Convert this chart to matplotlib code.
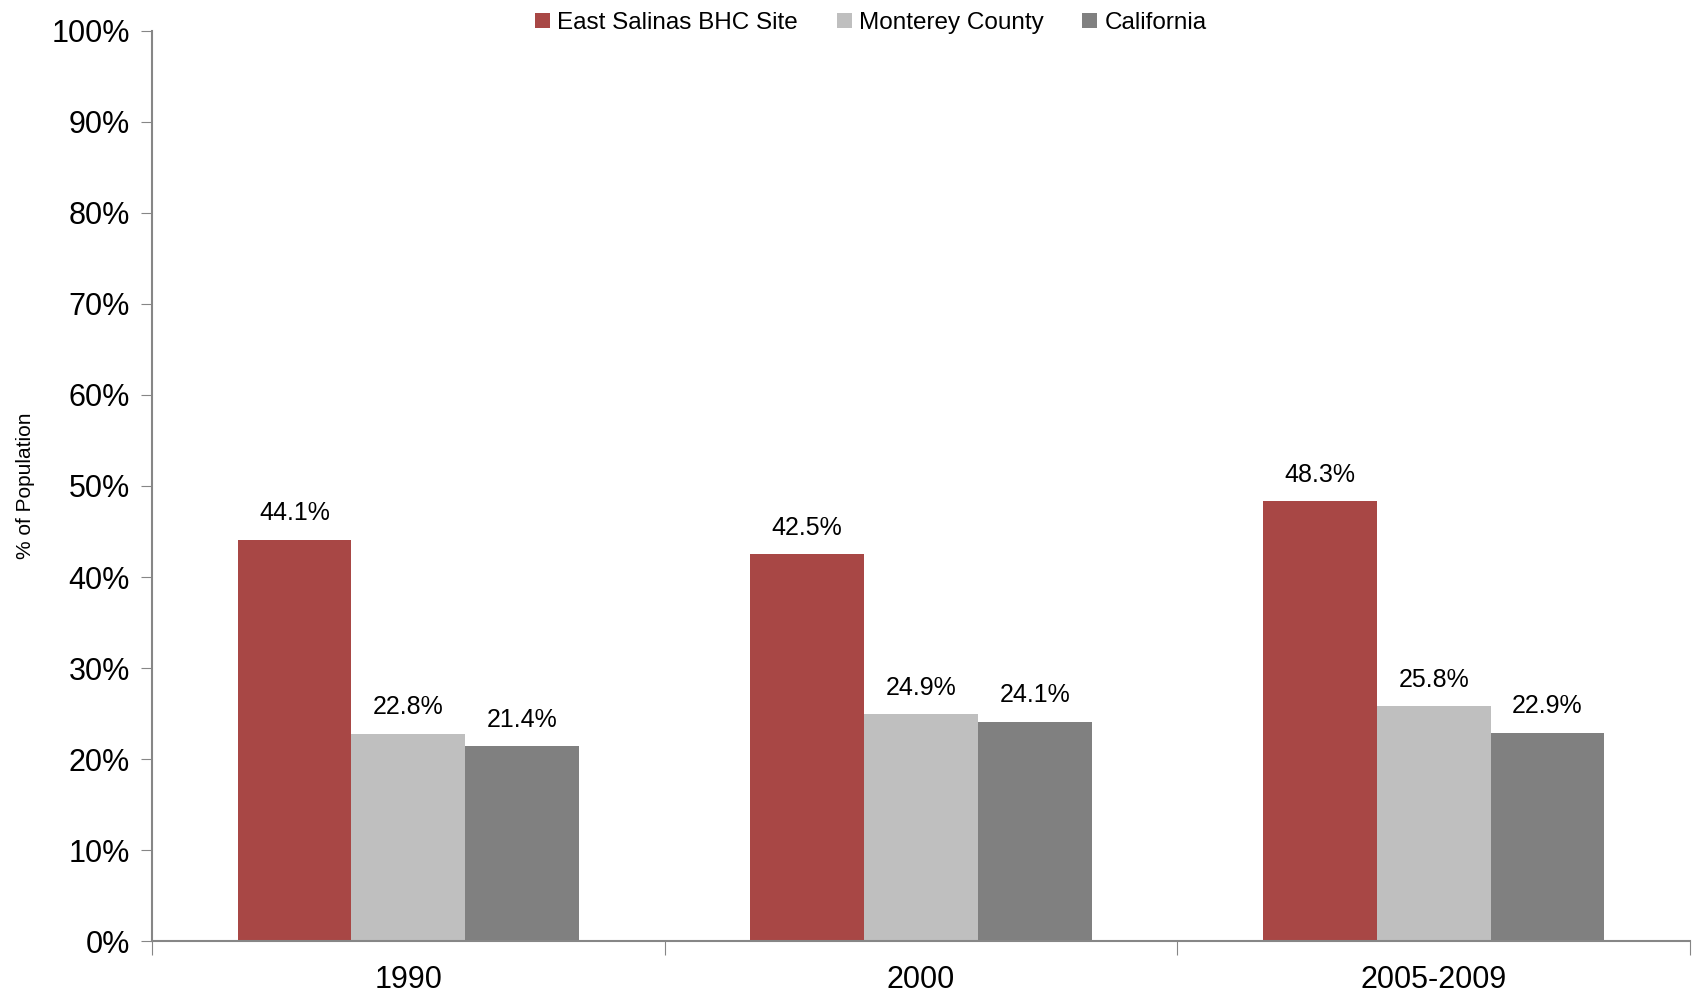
import matplotlib.pyplot as plt
import numpy as np
from matplotlib import font_manager

# categories and series
years = ['1990', '2000', '2005-2009']
series_names = ['East Salinas BHC Site', 'Monterey County', 'California']
east_salinas = [44.1, 42.5, 48.3]
monterey = [22.8, 24.9, 25.8]
california = [21.4, 24.1, 22.9]
colors = ['#A84745', '#BFBFBF', '#808080']

names = [f.name for f in font_manager.fontManager.ttflist]
narrow = 'Liberation Sans Narrow' if 'Liberation Sans Narrow' in names else 'Liberation Sans'
plt.rcParams['font.family'] = ['Liberation Sans', 'DejaVu Sans']

fig = plt.figure(figsize=(16.92, 9.96), dpi=100)
ax = fig.add_axes([0.0898, 0.0552, 0.909, 0.9137])

x = np.arange(len(years))
w = 0.222
for k, (vals, c, nm) in enumerate(zip([east_salinas, monterey, california], colors, series_names)):
    bars = ax.bar(x + (k - 1) * w, vals, width=w, color=c, label=nm)
    for b, v in zip(bars, vals):
        ax.text(b.get_x() + b.get_width() / 2, v + 1.6, '%.1f%%' % v,
                ha='center', va='bottom', fontsize=18)

ax.set_xlim(-0.5, 2.5)
ax.set_ylim(0, 100)
ax.set_yticks(np.arange(0, 101, 10))
ax.set_yticklabels(['%d%%' % v for v in range(0, 101, 10)], fontsize=22)
ax.set_xticks([-0.5, 0.5, 1.5, 2.5])
ax.set_xticklabels([])
ax.set_xticks(x, minor=True)
ax.set_xticklabels(years, minor=True, fontsize=22)
ax.tick_params(axis='x', which='major', length=10, color='#868686')
ax.tick_params(axis='x', which='minor', length=0, pad=17)
ax.tick_params(axis='y', length=8, color='#868686', pad=8)

for s in ['top', 'right']:
    ax.spines[s].set_visible(False)
for s in ['left', 'bottom']:
    ax.spines[s].set_color('#868686')
    ax.spines[s].set_linewidth(1.5)

ax.set_ylabel('% of Population', fontsize=15, labelpad=12)

ax.legend(loc='upper center', bbox_to_anchor=(0.4675, 1.045), ncol=3, frameon=False,
          handlelength=0.6, handleheight=0.6, handletextpad=0.3, columnspacing=1.6,
          prop={'family': narrow, 'size': 17.5})

fig.savefig('out.png')
